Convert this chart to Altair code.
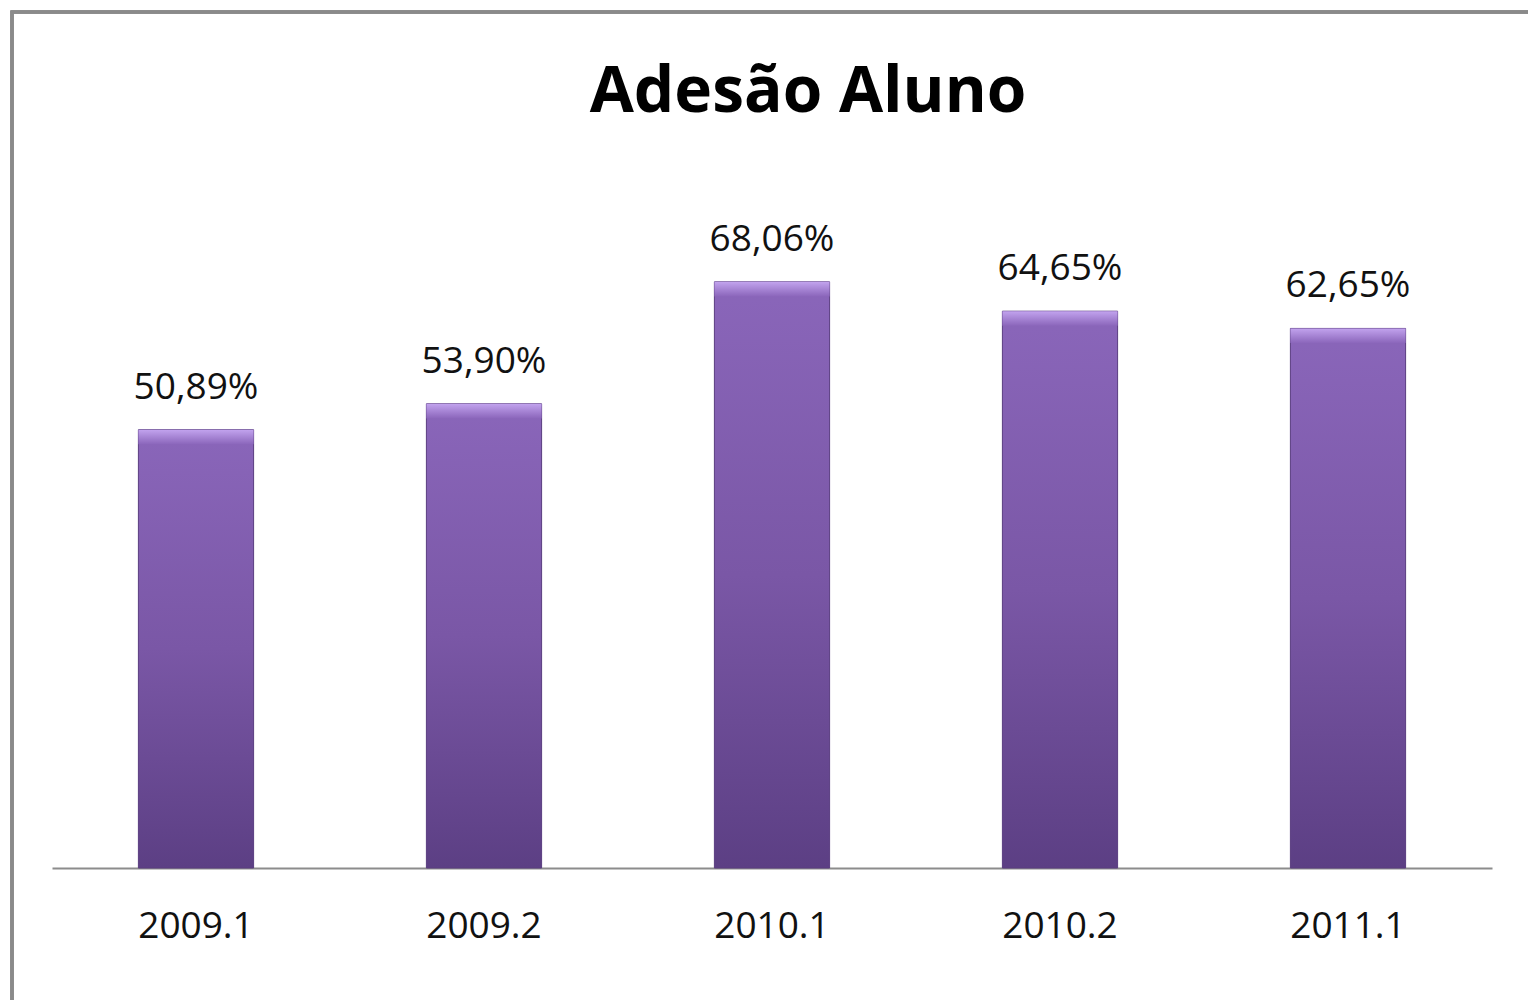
import altair as alt
import pandas as pd

periods = ["2009.1", "2009.2", "2010.1", "2010.2", "2011.1"]
values = [50.89, 53.90, 68.06, 64.65, 62.65]

df = pd.DataFrame({"periodo": periods, "adesao": values})

FONT = "Open Sans"
PLOT_W = 1440
PLOT_H = 689
LEFT = 52
TOP = 179

x_enc = alt.X(
    "periodo:N",
    sort=periods,
    scale=alt.Scale(paddingInner=0.6, paddingOuter=0.3),
    axis=alt.Axis(
        title=None, labelAngle=0, ticks=False, tickSize=0, grid=False,
        domainColor="#8c8c8c", domainWidth=2,
        labelFont=FONT, labelFontSize=37, labelColor="#111111", labelPadding=40,
    ),
)
y_enc = alt.Y("adesao:Q", scale=alt.Scale(domain=[0, 80]), axis=None)

base = alt.Chart(df).encode(x=x_enc)

frame = alt.Chart(df).mark_rect(
    fill="transparent", stroke="#8a8a8a", strokeWidth=3
).encode(
    x=alt.value(12 - LEFT), x2=alt.value(1700),
    y=alt.value(12 - TOP), y2=alt.value(1100),
)

bars = base.mark_bar(
    color=alt.Gradient(
        gradient="linear", x1=0, x2=0, y1=0, y2=1,
        stops=[
            alt.GradientStop(offset=0, color="#8a66ba"),
            alt.GradientStop(offset=0.5, color="#7a57a6"),
            alt.GradientStop(offset=1, color="#5c3f84"),
        ],
    ),
    stroke="#5a3d80", strokeWidth=1,
).encode(y=y_enc)

bevel = base.transform_calculate(
    top_edge="datum.adesao - 1.7"
).mark_bar(
    color=alt.Gradient(
        gradient="linear", x1=0, x2=0, y1=0, y2=1,
        stops=[
            alt.GradientStop(offset=0, color="#c2a3ee"),
            alt.GradientStop(offset=1, color="#8b66bb"),
        ],
    ),
).encode(y=alt.Y("adesao:Q", scale=alt.Scale(domain=[0, 80]), axis=None), y2="top_edge:Q")

labels = base.transform_calculate(
    lbl="replace(format(datum.adesao, '.2f'), '.', ',') + '%'"
).mark_text(
    font=FONT, fontSize=37, color="#111111", baseline="alphabetic", dy=-31
).encode(y=y_enc, text="lbl:N")

chart = alt.layer(frame, bars, bevel, labels).properties(
    width=PLOT_W,
    height=PLOT_H,
    title=alt.TitleParams(
        "Adesão Aluno", font=FONT, fontSize=64, fontWeight="bold", color="#000000",
        anchor="middle", frame="group", baseline="alphabetic", offset=-165, dx=36,
    ),
    autosize=alt.AutoSizeParams(type="none"),
    padding={"left": LEFT, "top": TOP, "right": 1528 - LEFT - PLOT_W, "bottom": 1000 - TOP - PLOT_H},
    background="white",
).configure_view(stroke=None)

chart.save("out.html", embed_options={"renderer": "svg", "actions": False})
